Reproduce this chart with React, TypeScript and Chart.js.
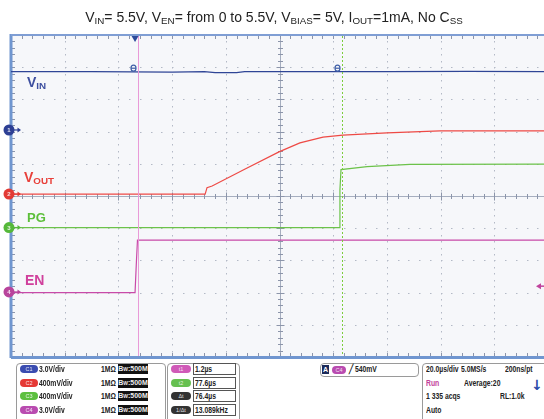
import React, { useEffect, useRef } from "react";
import { Chart, registerables } from "chart.js";
Chart.register(...registerables);

// ---------- data: time in µs from the left screen edge, level in divisions ----------
const X_MAX = 198.5;
const vinTime = [0, 30, 60, 72, 76, 84, 87, 110, 140, 170, 198.5];
const vinLevel = [8.86, 8.86, 8.85, 8.86, 8.83, 8.83, 8.86, 8.86, 8.86, 8.87, 8.86];
const voutTime = [0, 72.3, 73.0, 74.9, 87.2, 99.8, 107.6, 116.2, 123.6, 140.0, 159.8, 198.5];
const voutLevel = [5.06, 5.06, 5.26, 5.31, 5.84, 6.37, 6.65, 6.83, 6.89, 6.96, 7.02, 7.02];
const pgTime = [0, 122.2, 122.5, 122.9, 132.6, 148.6, 198.5];
const pgLevel = [4.02, 4.02, 5.19, 5.82, 5.91, 5.98, 5.99];
const enTime = [0, 46.2, 46.7, 47.1, 198.5];
const enLevel = [2.0, 2.0, 2.95, 3.63, 3.63];

const cursorTimes = [47.4, 123.3];
const triggerTime = 46.2;
const triggerLevel = 2.2;
const channelLevels = [7.05, 5.06, 4.02, 2.02];
const channelColors = ["#2d3f94", "#e23a35", "#55b83a", "#b8449c"];
const traceColors = ["#2f4596", "#ee4a45", "#6cc24a", "#c84aa8"];

// ---------- panel texts ----------
const chNames = ["C1", "C2", "C3", "C4"];
const chScales = ["3.0V/div", "400mV/div", "400mV/div", "3.0V/div"];
const pillColors = ["#3a4cb0", "#e53935", "#5cbf3f", "#b94bb0"];
const cursorNames = ["t1", "t2", "Δt", "1/Δt"];
const cursorColors = ["#d05ab8", "#66c050", "#333333", "#333333"];
const cursorValues = ["1.2µs", "77.6µs", "76.4µs", "13.089kHz"];

const scopePlugin = {
  id: "scope",
  beforeDraw(chart: any) {
    const { ctx, chartArea: a } = chart;
    const xs = chart.scales.x;
    const ys = chart.scales.y;
    ctx.save();
    ctx.fillStyle = "#ffffff";
    ctx.fillRect(0, 0, chart.width, chart.height);
    ctx.fillStyle = "#f6f7fa";
    ctx.fillRect(a.left, a.top, a.right - a.left, a.bottom - a.top);
    // dotted grid
    ctx.fillStyle = "#b3b9c6";
    for (let k = 1; k < 10; k++) {
      if (k === 5) continue;
      const x = Math.round(xs.getPixelForValue(k * 20));
      for (let m = 1; m < 50; m++) {
        const y = Math.round(ys.getPixelForValue(m * 0.2));
        ctx.fillRect(x, y, 1, 1.5);
      }
    }
    for (let k = 1; k < 10; k++) {
      if (k === 5) continue;
      const y = Math.round(ys.getPixelForValue(k));
      for (let m = 1; m < 60; m++) {
        const x = xs.getPixelForValue(m * 4);
        if (x > a.right) break;
        ctx.fillRect(Math.round(x), y, 1.5, 1);
      }
    }
    // center axes
    ctx.strokeStyle = "#a6aebf";
    ctx.lineWidth = 1;
    const cx = Math.round(xs.getPixelForValue(100)) + 0.5;
    const cy = Math.round(ys.getPixelForValue(5)) + 0.5;
    ctx.beginPath();
    ctx.moveTo(cx, a.top);
    ctx.lineTo(cx, a.bottom);
    ctx.moveTo(a.left, cy);
    ctx.lineTo(a.right, cy);
    ctx.stroke();
    ctx.strokeStyle = "#8c95aa";
    ctx.beginPath();
    for (let m = 1; m < 50; m++) {
      const y = Math.round(ys.getPixelForValue(m * 0.2)) + 0.5;
      const l = m % 5 === 0 ? 4 : 2.5;
      ctx.moveTo(cx - l, y);
      ctx.lineTo(cx + l, y);
      ctx.moveTo(a.left, y);
      ctx.lineTo(a.left + 4, y);
    }
    for (let m = 1; m < 60; m++) {
      const x = xs.getPixelForValue(m * 4);
      if (x > a.right) break;
      const px = Math.round(x) + 0.5;
      const l = m % 5 === 0 ? 4 : 2.5;
      ctx.moveTo(px, cy - l);
      ctx.lineTo(px, cy + l);
      ctx.moveTo(px, a.top);
      ctx.lineTo(px, a.top + 4);
      ctx.moveTo(px, a.bottom);
      ctx.lineTo(px, a.bottom - 4);
    }
    ctx.stroke();
    // frame
    ctx.strokeStyle = "#7096d0";
    ctx.lineWidth = 3;
    ctx.beginPath();
    ctx.moveTo(a.left, a.top - 1);
    ctx.lineTo(a.left, a.bottom + 1);
    ctx.moveTo(a.left, a.bottom + 0.5);
    ctx.lineTo(a.right, a.bottom + 0.5);
    ctx.stroke();
    ctx.lineWidth = 2;
    ctx.strokeStyle = "#7f9ed4";
    ctx.beginPath();
    ctx.moveTo(a.left, a.top);
    ctx.lineTo(a.right, a.top);
    ctx.stroke();
    ctx.restore();
  },
  afterDatasetsDraw(chart: any) {
    const { ctx, chartArea: a } = chart;
    const xs = chart.scales.x;
    const ys = chart.scales.y;
    ctx.save();
    // cursors
    const p1 = Math.round(xs.getPixelForValue(cursorTimes[0])) + 0.5;
    const p2 = Math.round(xs.getPixelForValue(cursorTimes[1])) + 0.5;
    ctx.lineWidth = 1;
    ctx.strokeStyle = "#e99ad8";
    ctx.beginPath();
    ctx.moveTo(p1, a.top + 1);
    ctx.lineTo(p1, a.bottom - 1);
    ctx.stroke();
    ctx.strokeStyle = "#7ccc3c";
    ctx.setLineDash([2, 2]);
    ctx.beginPath();
    ctx.moveTo(p2, a.top + 1);
    ctx.lineTo(p2, a.bottom - 1);
    ctx.stroke();
    ctx.setLineDash([]);
    // cursor markers on the VIN line
    const my = ys.getPixelForValue(vinLevel[0]) - 3.5;
    ctx.strokeStyle = "#3f5fa8";
    ctx.lineWidth = 1.2;
    [p1 - 5, p2 - 5].forEach((mx) => {
      ctx.beginPath();
      ctx.ellipse(mx, my, 2.5, 3, 0, 0, Math.PI * 2);
      ctx.stroke();
      ctx.beginPath();
      ctx.moveTo(mx - 2.5, my);
      ctx.lineTo(mx + 2.5, my);
      ctx.stroke();
    });
    // trigger position marker
    const tx = xs.getPixelForValue(triggerTime);
    ctx.fillStyle = "#2c4a9a";
    ctx.beginPath();
    ctx.moveTo(tx - 3.5, a.top + 1);
    ctx.lineTo(tx + 3.5, a.top + 1);
    ctx.lineTo(tx, a.top + 7);
    ctx.closePath();
    ctx.fill();
    // trigger level arrow
    const ty = ys.getPixelForValue(triggerLevel);
    ctx.strokeStyle = "#c0449e";
    ctx.fillStyle = "#c0449e";
    ctx.lineWidth = 1.5;
    ctx.beginPath();
    ctx.moveTo(a.right - 4, ty);
    ctx.lineTo(a.right, ty);
    ctx.stroke();
    ctx.beginPath();
    ctx.moveTo(a.right - 8, ty);
    ctx.lineTo(a.right - 3, ty - 3);
    ctx.lineTo(a.right - 3, ty + 3);
    ctx.closePath();
    ctx.fill();
    // channel ground markers
    channelLevels.forEach((lv, i) => {
      const y = ys.getPixelForValue(lv);
      const x = a.left - 2;
      ctx.strokeStyle = channelColors[i];
      ctx.fillStyle = channelColors[i];
      ctx.lineWidth = 1.2;
      ctx.beginPath();
      ctx.moveTo(x + 4, y);
      ctx.lineTo(x + 10, y);
      ctx.stroke();
      ctx.beginPath();
      ctx.moveTo(x + 12, y);
      ctx.lineTo(x + 8.5, y - 2.5);
      ctx.lineTo(x + 8.5, y + 2.5);
      ctx.closePath();
      ctx.fill();
      ctx.beginPath();
      ctx.arc(x, y, 5.5, 0, Math.PI * 2);
      ctx.fill();
      ctx.fillStyle = "rgba(255,255,255,0.85)";
      ctx.font = "bold 6px 'Liberation Sans', Arial";
      ctx.textAlign = "center";
      ctx.textBaseline = "middle";
      ctx.fillText(String(i + 1), x, y + 0.5);
    });
    ctx.restore();
  },
};

function ScopeChart() {
  const ref = useRef<HTMLCanvasElement | null>(null);
  useEffect(() => {
    if (!ref.current) return;
    const mk = (t: number[], v: number[]) => t.map((x, i) => ({ x, y: v[i] }));
    const chart = new Chart(ref.current, {
      type: "line",
      data: {
        datasets: [
          { label: "EN", data: mk(enTime, enLevel), borderColor: traceColors[3] },
          { label: "PG", data: mk(pgTime, pgLevel), borderColor: traceColors[2] },
          { label: "VOUT", data: mk(voutTime, voutLevel), borderColor: traceColors[1] },
          { label: "VIN", data: mk(vinTime, vinLevel), borderColor: traceColors[0] },
        ],
      },
      options: {
        animation: false,
        responsive: true,
        maintainAspectRatio: false,
        parsing: false as any,
        layout: { padding: { left: 11, top: 35, right: 0, bottom: 3 } },
        elements: {
          point: { radius: 0 },
          line: { borderWidth: 1.2, tension: 0 },
        },
        plugins: { legend: { display: false }, tooltip: { enabled: false } },
        scales: {
          x: { type: "linear", min: 0, max: X_MAX, display: false },
          y: { type: "linear", min: 0, max: 10, display: false },
        },
      },
      plugins: [scopePlugin],
    });
    return () => chart.destroy();
  }, []);
  return (
    <div style={{ position: "absolute", left: 0, top: 0, width: 544, height: 360 }}>
      <canvas ref={ref} />
    </div>
  );
}

const abs = (left: number, top: number, extra: React.CSSProperties = {}): React.CSSProperties => ({
  position: "absolute",
  left,
  top,
  whiteSpace: "nowrap",
  ...extra,
});

const panelFont: React.CSSProperties = {
  fontFamily: "'Liberation Sans', Arial, sans-serif",
  fontWeight: "bold",
  fontSize: 8.5,
  lineHeight: "9px",
  color: "#222",
  transform: "scaleX(0.8)",
  transformOrigin: "left center",
};

function Pill({ left, top, color, text, w = 18 }: any) {
  return (
    <div
      style={abs(left, top, {
        width: w,
        height: 8,
        borderRadius: 4,
        background: color,
        color: "rgba(255,255,255,0.85)",
        fontSize: 5.5,
        lineHeight: "8px",
        textAlign: "center",
        fontFamily: "'Liberation Sans', Arial",
      })}
    >
      {text}
    </div>
  );
}

export default function App() {
  const rowTops = [365, 379, 392, 406];
  const lbl = (c: string, size: number): React.CSSProperties => ({
    fontFamily: "'Liberation Sans', Arial, sans-serif",
    fontWeight: "bold",
    fontSize: size,
    lineHeight: 1,
    color: c,
  });
  const subStyle: React.CSSProperties = { fontSize: "0.7em", verticalAlign: "-0.25em" };
  return (
    <div
      style={{
        position: "fixed",
        left: 0,
        top: 0,
        width: 544,
        height: 419,
        overflow: "hidden",
        background: "#fff",
      }}
    >
      <ScopeChart />
      {/* title */}
      <div
        style={abs(0, 9, {
          width: 548,
          textAlign: "center",
          fontFamily: "'Liberation Sans', Arial, sans-serif",
          fontSize: 14,
          lineHeight: "16px",
          color: "#222",
        })}
      >
        V<span style={subStyle}>IN</span>= 5.5V, V<span style={subStyle}>EN</span>= from 0 to 5.5V, V
        <span style={subStyle}>BIAS</span>= 5V, I<span style={subStyle}>OUT</span>=1mA, No C
        <span style={subStyle}>SS</span>
      </div>
      {/* trace labels */}
      <div style={abs(27, 75, lbl("#3d4f9f", 14))}>
        V<span style={subStyle}>IN</span>
      </div>
      <div style={abs(24, 170, lbl("#e8403a", 14))}>
        V<span style={subStyle}>OUT</span>
      </div>
      <div style={abs(27, 211, lbl("#5cbf3a", 13))}>PG</div>
      <div style={abs(25, 273, lbl("#d0409c", 14))}>EN</div>

      {/* channel box */}
      <div style={abs(16, 363, { width: 148, height: 70, border: "1px solid #9a9a9a", borderRadius: 4 })} />
      {chNames.map((n, i) => (
        <React.Fragment key={n}>
          <Pill left={20} top={rowTops[i]} color={pillColors[i]} text={n} />
          <div style={abs(39, rowTops[i] - 0.5, panelFont)}>{chScales[i]}</div>
          <div style={abs(101, rowTops[i] - 0.5, panelFont)}>1MΩ</div>
          <div
            style={abs(118, rowTops[i] - 1, {
              fontFamily: "'Liberation Sans', Arial, sans-serif",
              fontWeight: "bold",
              background: "#111",
              color: "#eee",
              width: 30,
              height: 10,
              lineHeight: "10px",
              fontSize: 7,
              textAlign: "center",
            })}
          >
            B<span style={{ fontSize: 5 }}>W</span>:500M
          </div>
        </React.Fragment>
      ))}
      {/* cursor box */}
      <div style={abs(167, 363, { width: 71, height: 70, border: "1px solid #9a9a9a", borderRadius: 4 })} />
      {cursorNames.map((n, i) => (
        <React.Fragment key={n}>
          <Pill left={171} top={rowTops[i]} color={cursorColors[i]} text={n} w={20} />
          <div
            style={abs(193, rowTops[i] - 2.5, {
              width: 43,
              height: 12,
              border: "1px solid #555",
              boxSizing: "border-box",
            })}
          />
          <div style={abs(195, rowTops[i] - 0.5, panelFont)}>{cursorValues[i]}</div>
        </React.Fragment>
      ))}
      {/* trigger box */}
      <div style={abs(320, 363, { width: 97, height: 12, border: "1px solid #9a9a9a", borderRadius: 4 })} />
      <div
        style={abs(322, 365, {
          fontFamily: "'Liberation Sans', Arial, sans-serif",
          fontWeight: "bold",
          width: 7,
          height: 9,
          lineHeight: "9px",
          background: "#1b2a5a",
          color: "#fff",
          fontSize: 7,
          textAlign: "center",
        })}
      >
        A
      </div>
      <Pill left={332} top={365.5} color={pillColors[3]} text="C4" w={14} />
      <div style={abs(349, 364.5, panelFont)}>╱ 540mV</div>
      {/* timebase box */}
      <div style={abs(422, 363, { width: 140, height: 70, border: "1px solid #9a9a9a", borderRadius: 4 })} />
      <div style={abs(426, 364.5, panelFont)}>20.0µs/div</div>
      <div style={abs(461, 364.5, panelFont)}>5.0MS/s</div>
      <div style={abs(505, 364.5, panelFont)}>200ns/pt</div>
      <div style={abs(426, 378.5, { ...panelFont, color: "#c2409a" })}>Run</div>
      <div style={abs(464, 378.5, panelFont)}>Average:20</div>
      <div
        style={abs(531, 378, {
          fontFamily: "'DejaVu Sans', sans-serif",
          fontWeight: "bold",
          color: "#2a4aa8",
          fontSize: 14,
          lineHeight: "14px",
        })}
      >
        ↓
      </div>
      <div style={abs(426, 391.5, panelFont)}>1 335 acqs</div>
      <div style={abs(500, 391.5, panelFont)}>RL:1.0k</div>
      <div style={abs(426, 405.5, panelFont)}>Auto</div>
    </div>
  );
}
